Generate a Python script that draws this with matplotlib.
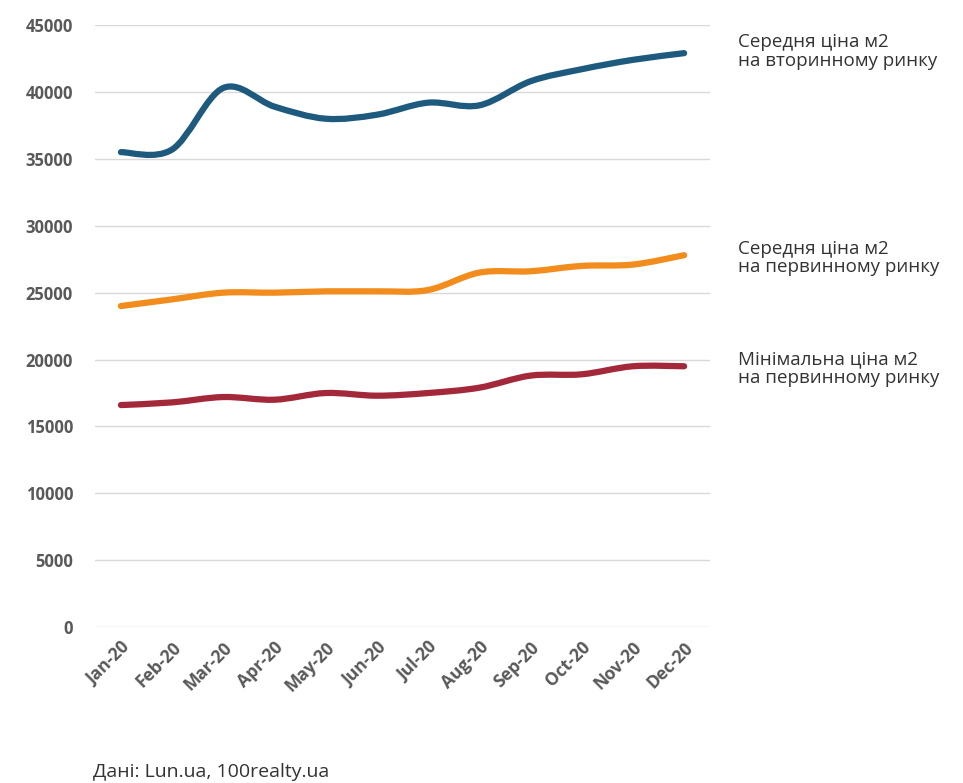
import numpy as np
import matplotlib.pyplot as plt
from matplotlib.path import Path
from matplotlib.patches import PathPatch

plt.rcParams['font.family'] = ['Open Sans', 'DejaVu Sans']

months = ['Jan-20', 'Feb-20', 'Mar-20', 'Apr-20', 'May-20', 'Jun-20',
          'Jul-20', 'Aug-20', 'Sep-20', 'Oct-20', 'Nov-20', 'Dec-20']

secondary_avg = [35500, 35700, 40300, 38900, 38000, 38300,
                 39200, 39000, 40800, 41700, 42400, 42900]
primary_avg = [24000, 24500, 25000, 25000, 25100, 25100,
               25200, 26500, 26600, 27000, 27100, 27800]
primary_min = [16600, 16800, 17200, 17000, 17500, 17300,
               17500, 17900, 18800, 18900, 19500, 19500]

labels = ['Середня ціна м2\nна вторинному ринку',
          'Середня ціна м2\nна первинному ринку',
          'Мінімальна ціна м2\nна первинному ринку']
colors = ['#1d5a7e', '#f28c1c', '#a3283a']
source = 'Дані: Lun.ua, 100realty.ua'


def smooth_path(xs, ys, t=1/6):
    # Excel-like smoothed line as cubic bezier segments
    pts = np.column_stack([xs, ys]).astype(float)
    verts = [pts[0]]
    codes = [Path.MOVETO]
    n = len(pts)
    for i in range(n - 1):
        p0 = pts[i - 1] if i > 0 else pts[i]
        p1, p2 = pts[i], pts[i + 1]
        p3 = pts[i + 2] if i + 2 < n else pts[i + 1]
        c1 = p1 + (p2 - p0) * t
        c2 = p2 - (p3 - p1) * t
        verts += [c1, c2, p2]
        codes += [Path.CURVE4] * 3
    return Path(verts, codes)


fig = plt.figure(figsize=(9.63, 7.83), dpi=100)
ax = fig.add_axes([0.099, 0.199, 0.638, 0.769])

x = np.arange(len(months))
for ys, c in zip([secondary_avg, primary_avg, primary_min], colors):
    ax.add_patch(PathPatch(smooth_path(x, ys), fill=False, edgecolor=c,
                           lw=4.5, capstyle='round', joinstyle='round', zorder=3))

ax.set_xlim(-0.5, len(months) - 0.5)
ax.set_ylim(0, 45000)
ax.set_yticks(range(0, 45001, 5000))
ax.yaxis.grid(True, color='#d9d9d9', lw=1)
ax.set_axisbelow(True)
ax.set_xticks(x)
ax.set_xticklabels(months, rotation=45, ha='right', rotation_mode='anchor')
ax.tick_params(length=0, labelcolor='#595959')
ax.tick_params(axis='y', labelsize=12, pad=16)
ax.tick_params(axis='x', labelsize=12.5, pad=8)
for lab in ax.get_xticklabels() + ax.get_yticklabels():
    lab.set_fontweight('bold')
for s in ax.spines.values():
    s.set_visible(False)

for lab, yv in zip(labels, [43000, 27600, 19300]):
    ax.text(12.06, yv, lab, fontsize=13.5, color='#333333', va='center',
            ha='left', linespacing=1.05, clip_on=False)

fig.text(0.097, 0.008, source, fontsize=14, color='#333333')

fig.savefig('out.png', dpi=100)
